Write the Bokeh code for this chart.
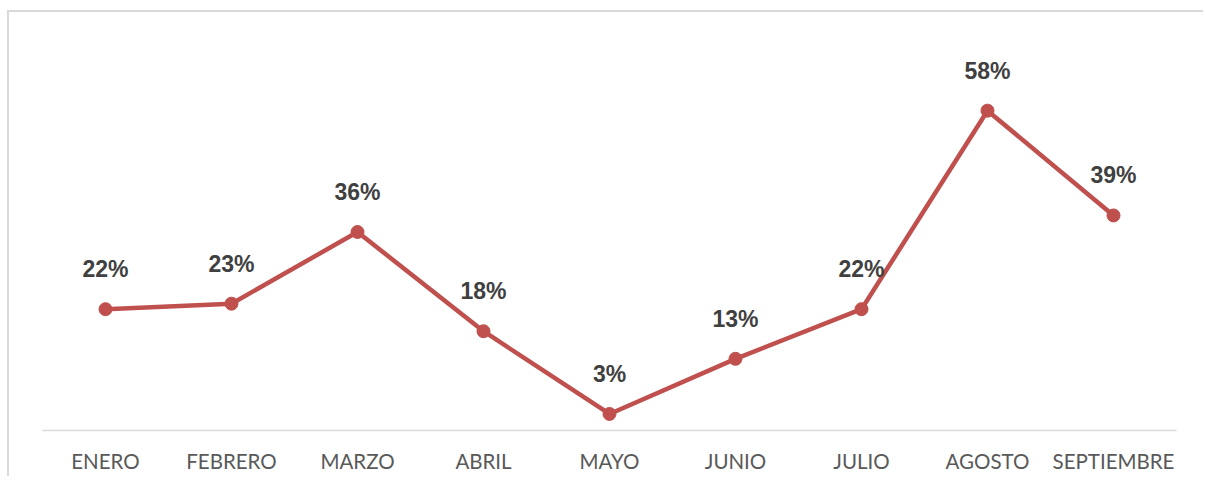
from bokeh.plotting import figure
from bokeh.models import ColumnDataSource, Range1d
from bokeh.core.properties import value
from bokeh.embed import file_html
from bokeh.resources import INLINE

months = ["ENERO", "FEBRERO", "MARZO", "ABRIL", "MAYO", "JUNIO", "JULIO", "AGOSTO", "SEPTIEMBRE"]
pct = [22, 23, 36, 18, 3, 13, 22, 58, 39]
labels = [f"{v}%" for v in pct]

src = ColumnDataSource(dict(x=months, y=pct, lab=labels))

p = figure(x_range=months, y_range=Range1d(0, 70), width=1196, height=466,
           output_backend="svg", toolbar_location=None,
           min_border_left=33, min_border_right=29, min_border_top=32, min_border_bottom=48)
p.styles = {"border-top": "2px solid #d9d9d9", "border-left": "2px solid #d9d9d9",
            "border-right": "none", "border-bottom": "none",
            "margin-left": "7px", "margin-top": "10px"}
p.outline_line_color = None
p.border_fill_color = "white"
p.xgrid.visible = False
p.ygrid.visible = False
p.yaxis.visible = False

ax = p.xaxis[0]
ax.axis_line_color = "#d9d9d9"
ax.axis_line_width = 1.5
ax.major_tick_line_color = None
ax.minor_tick_line_color = None
ax.major_label_standoff = 12
ax.major_label_text_font = "Lato"
ax.major_label_text_font_size = "20.5px"
ax.major_label_text_color = "#595959"

col = "#C0504D"
p.line("x", "y", source=src, line_color=col, line_width=4.5)
p.scatter("x", "y", source=src, size=13, fill_color=col, line_color=col)
p.text("x", "y", text="lab", source=src, y_offset=-40, text_align="center",
       text_baseline="alphabetic", text_font=value("Liberation Sans"), text_font_style="bold",
       text_font_size="23px", text_color="#404040")

open("out.html", "w").write(file_html(p, INLINE))
